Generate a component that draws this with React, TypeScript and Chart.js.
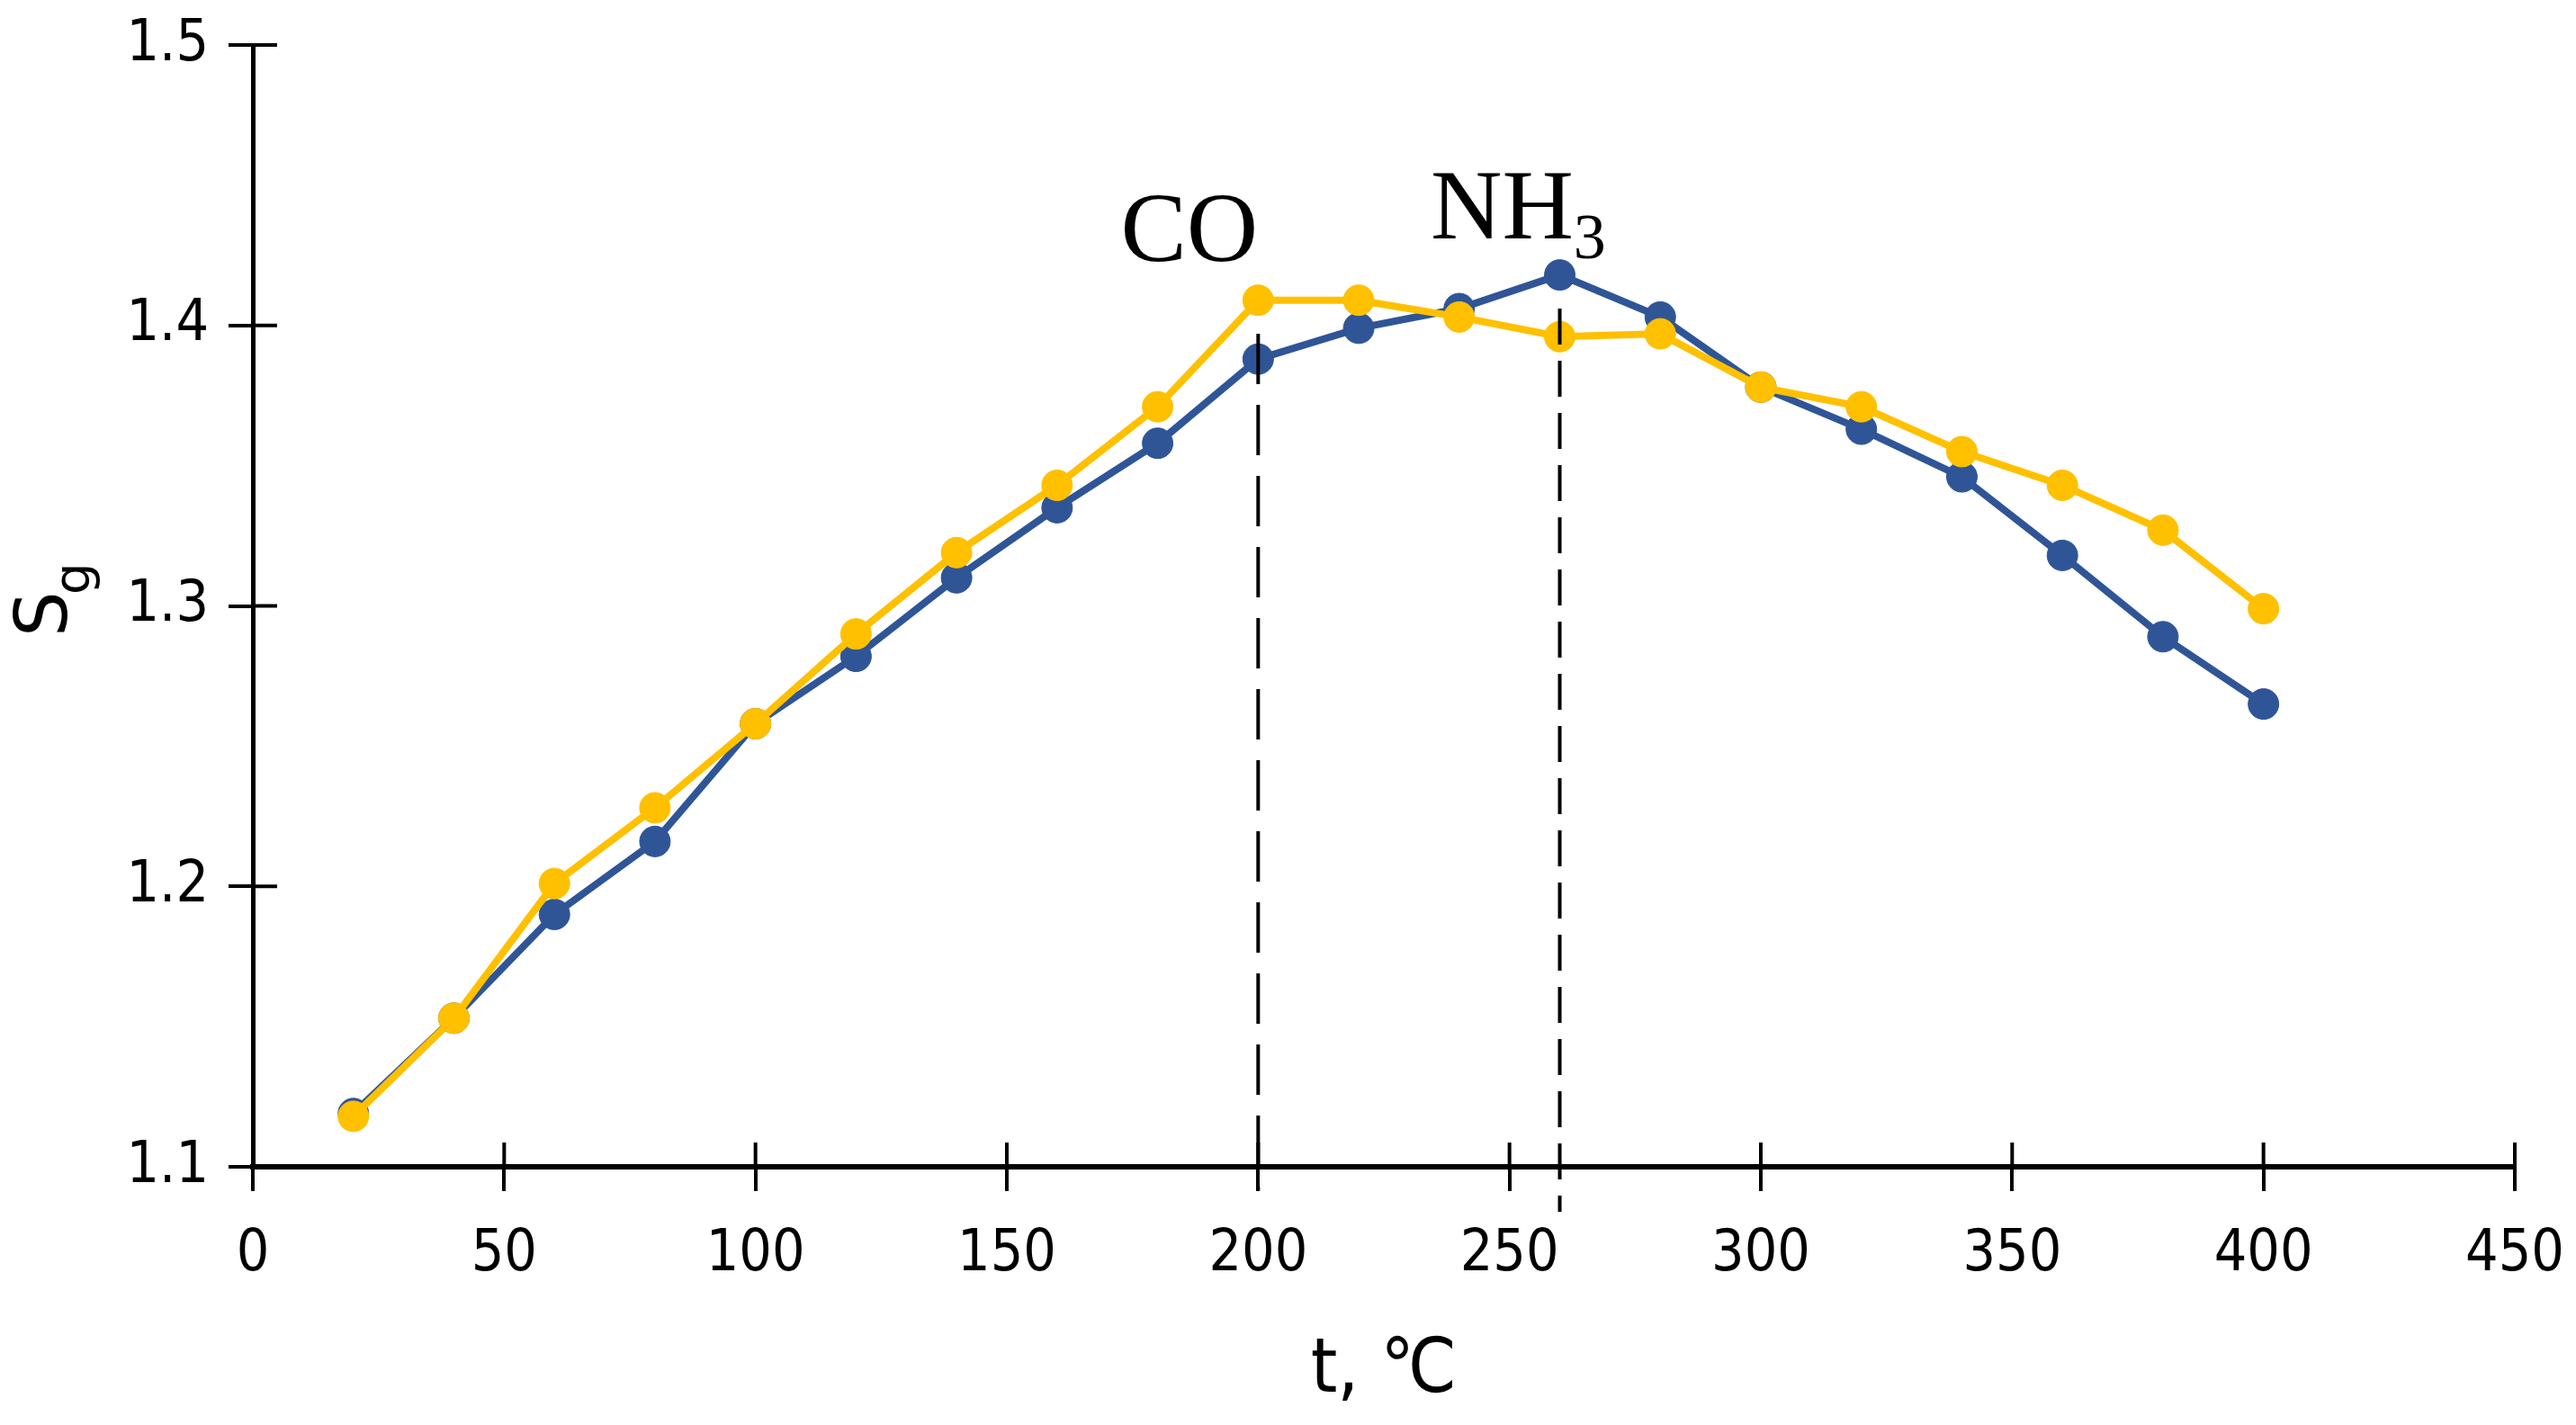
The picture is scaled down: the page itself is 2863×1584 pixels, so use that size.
import { useEffect, useRef } from 'react'
import { Chart, registerables } from 'chart.js'

Chart.register(...registerables)

// temperatures, °C
const temps = [20, 40, 60, 80, 100, 120, 140, 160, 180, 200, 220, 240, 260, 280, 300, 320, 340, 360, 380, 400]
// response S_g, blue curve
const blueSeries = [1.119, 1.153, 1.19, 1.216, 1.258, 1.282, 1.31, 1.335, 1.358, 1.388, 1.399, 1.406, 1.418, 1.403, 1.378, 1.363, 1.346, 1.318, 1.289, 1.265]
// response S_g, yellow curve
const yellowSeries = [1.118, 1.153, 1.201, 1.228, 1.258, 1.29, 1.319, 1.343, 1.371, 1.409, 1.409, 1.403, 1.396, 1.397, 1.378, 1.371, 1.355, 1.343, 1.327, 1.299]

const xTicks = [0, 50, 100, 150, 200, 250, 300, 350, 400, 450]
const yTicks = [1.1, 1.2, 1.3, 1.4, 1.5]

// dashed markers: x, top value, bottom value (runs a little past the axis)
const coMarker = [200, 1.397, 1.0915]
const nh3Marker = [260, 1.406, 1.084]
// label anchors in data units
const coLabelAt = [186.3, 1.423]
const nh3LabelAt = [234.3, 1.431]

const BLUE = '#2f5597'
const YELLOW = '#ffc000'
const TICK_FONT = '"DejaVu Sans Condensed", "DejaVu Sans", sans-serif'
const SERIF = '"Liberation Serif", "DejaVu Serif", serif'

const extras = {
  id: 'extras',
  afterDraw(chart: any) {
    const { ctx, scales } = chart
    const x = scales.x
    const y = scales.y
    ctx.save()

    // inward halves of the crossing ticks
    ctx.strokeStyle = '#000'
    ctx.lineWidth = 4
    ctx.beginPath()
    for (const t of x.ticks) {
      const px = x.getPixelForValue(t.value)
      ctx.moveTo(px, y.bottom)
      ctx.lineTo(px, y.bottom - 27)
    }
    for (const t of y.ticks) {
      const py = y.getPixelForValue(t.value)
      ctx.moveTo(x.left, py)
      ctx.lineTo(x.left + 27, py)
    }
    ctx.stroke()

    // dashed markers
    const dashLine = (m: number[], dash: number[], w: number) => {
      ctx.setLineDash(dash)
      ctx.lineWidth = w
      ctx.beginPath()
      const px = x.getPixelForValue(m[0])
      ctx.moveTo(px, y.getPixelForValue(m[1]))
      ctx.lineTo(px, y.getPixelForValue(m[2]))
      ctx.stroke()
    }
    dashLine(coMarker, [56, 23], 4)
    dashLine(nh3Marker, [40, 18], 4)
    ctx.setLineDash([])

    // gas labels
    ctx.fillStyle = '#000'
    ctx.textBaseline = 'alphabetic'
    ctx.font = `110px ${SERIF}`
    ctx.textAlign = 'center'
    ctx.fillText('CO', x.getPixelForValue(coLabelAt[0]), y.getPixelForValue(coLabelAt[1]))
    ctx.textAlign = 'left'
    const nx = x.getPixelForValue(nh3LabelAt[0])
    const ny = y.getPixelForValue(nh3LabelAt[1])
    ctx.fillText('NH', nx, ny)
    const w = ctx.measureText('NH').width
    ctx.font = `72px ${SERIF}`
    ctx.fillText('3', nx + w, ny + 22)

    // y axis title S with subscript g
    ctx.translate(74, 708)
    ctx.rotate(-Math.PI / 2)
    ctx.font = '80px "DejaVu Sans", sans-serif'
    ctx.fillText('S', 0, 0)
    ctx.font = '56px "DejaVu Sans", sans-serif'
    ctx.fillText('g', 47, 25)
    ctx.restore()
  },
}

export default function App() {
  const canvasRef = useRef<HTMLCanvasElement>(null)
  const chartRef = useRef<any>(null)

  useEffect(() => {
    if (!canvasRef.current) return
    if (chartRef.current) chartRef.current.destroy()

    const seriesStyle = (c: string) => ({
      borderColor: c,
      backgroundColor: c,
      pointBackgroundColor: c,
      pointBorderColor: c,
      borderWidth: 8,
      pointRadius: 17,
      pointBorderWidth: 1,
      tension: 0,
    })

    chartRef.current = new Chart(canvasRef.current, {
      type: 'line',
      data: {
        datasets: [
          { label: 'yellow', data: temps.map((t, i) => ({ x: t, y: yellowSeries[i] })), ...seriesStyle(YELLOW) },
          { label: 'blue', data: temps.map((t, i) => ({ x: t, y: blueSeries[i] })), ...seriesStyle(BLUE) },
        ],
      },
      plugins: [extras],
      options: {
        animation: false,
        responsive: true,
        maintainAspectRatio: false,
        devicePixelRatio: 1,
        layout: { padding: { top: 50, right: 68, bottom: 0, left: 0 } },
        plugins: {
          legend: { display: false },
          tooltip: { enabled: false },
        },
        scales: {
          x: {
            type: 'linear',
            min: 0,
            max: 450,
            afterBuildTicks: (s: any) => { s.ticks = xTicks.map(v => ({ value: v })) },
            afterFit: (s: any) => { s.height = 287; s.paddingLeft = 0; s.paddingRight = 0 },
            ticks: { color: '#000', font: { family: TICK_FONT, size: 64 }, padding: 33, maxRotation: 0, autoSkip: false },
            grid: { drawOnChartArea: false, drawTicks: true, tickLength: 27, color: '#000', lineWidth: 4 },
            border: { display: true, color: '#000', width: 6 },
            title: { display: true, text: 't, ℃', color: '#000', font: { family: TICK_FONT, size: 84 }, padding: { top: 0, bottom: 8 } },
          },
          y: {
            type: 'linear',
            min: 1.1,
            max: 1.5,
            afterBuildTicks: (s: any) => { s.ticks = yTicks.map(v => ({ value: v })) },
            afterFit: (s: any) => { s.width = 281; s.paddingTop = 0; s.paddingBottom = 0 },
            ticks: { color: '#000', font: { family: TICK_FONT, size: 64 }, padding: 22, callback: (v: any) => Number(v).toFixed(1) },
            grid: { drawOnChartArea: false, drawTicks: true, tickLength: 27, color: '#000', lineWidth: 4 },
            border: { display: true, color: '#000', width: 5 },
          },
        },
      },
    } as any)

    return () => { if (chartRef.current) chartRef.current.destroy() }
  }, [])

  return (
    <div style={{ position: 'absolute', left: 0, top: 0, width: 2863, height: 1584, background: '#fff' }}>
      <canvas ref={canvasRef} />
    </div>
  )
}
